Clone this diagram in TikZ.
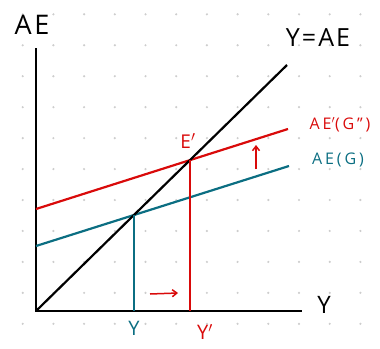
\documentclass[tikz,border=0pt]{standalone}
\usepackage{fontspec}
\setmainfont{Open Sans}
\usetikzlibrary{arrows.meta, positioning, calc, intersections}
\definecolor{aeblue}{HTML}{0B6E82}
\definecolor{aered}{HTML}{D90A0A}
\definecolor{dotgray}{HTML}{CDCDCD}

\begin{document}
\begin{tikzpicture}[x=1pt, y=-1pt,
      axis/.style={line width=2.2pt, black},
      curve/.style={line width=2.2pt},
      drop/.style={line width=1.6pt},
      shiftarr/.style={-{Straight Barb[length=4.5pt, width=7pt]}, aered, line width=1.5pt},
      lbl/.style={inner sep=0pt, font=\fontsize{16}{18}\selectfont\addfontfeature{LetterSpace=18}},
    ]
    \useasboundingbox (0,0) rectangle (380,348);
    % --- dotted paper -------------------------------------------------
    \foreach \i in {0,...,11} {
      \foreach \j in {0,...,10} {
        \fill[dotgray] (22.7+\i*30.7, 14.3+\j*30.95) circle (1.2pt);
      }
    }
    % --- axes ---------------------------------------------------------
    \coordinate (O) at (36,311);
    \coordinate (ytop) at (36,48);
    \coordinate (xend) at (302,311);
    \draw[axis] (ytop) -- (O) -- (xend);
    % --- the 45 degree line and the two AE lines ----------------------
    \coordinate (diagend) at (287,65);
    \coordinate (ae0) at (36,246);
    \coordinate (ae1) at (289,166);
    \coordinate (aep0) at (36,209);
    \coordinate (aep1) at (288,129);
    \draw[curve, aeblue, name path=ae] (ae0) -- (ae1);
    \draw[curve, aered, name path=aep] (aep0) -- (aep1);
    \draw[curve, black, name path=diag] (O) -- (diagend);
    \path[name intersections={of=diag and ae, by=E}];
    \path[name intersections={of=diag and aep, by=Ep}];
    % --- drop lines to the Y axis -------------------------------------
    \draw[drop, aeblue] (E) -- (E |- O);
    \draw[drop, aered] (Ep) -- (Ep |- O);
    % --- labels -------------------------------------------------------
    \node[lbl, font=\fontsize{27}{30}\selectfont\addfontfeature{LetterSpace=10}] (aelbl) at (32,25) {AE};
    \node[lbl, font=\fontsize{25}{28}\selectfont\addfontfeature{LetterSpace=8}] (eqlbl) at (318,38) {Y=AE};
    \node[lbl, font=\fontsize{24}{26}\selectfont] (ylbl) at (324,305) {Y};
    \node[lbl, aered, font=\fontsize{19}{21}\selectfont\addfontfeature{LetterSpace=10}] (eplbl) at (188,141) {E$'$};
    \node[lbl, aered] (aeplbl) at (340,125) {AE$'$(G”)};
    \node[lbl, aeblue] (aelinelbl) at (338,160) {AE(G)};
    \node[lbl, aeblue, font=\fontsize{20}{22}\selectfont] (y0lbl) at (134,328) {Y};
    \node[lbl, aered, font=\fontsize{20}{22}\selectfont] (y1lbl) at (205,332) {Y$'$};
    % --- shift arrows -------------------------------------------------
    \coordinate (upfrom) at (256,169);
    \coordinate (upto) at (256,145);
    \coordinate (rtfrom) at (150,294);
    \coordinate (rtto) at (178,293);
    \draw[shiftarr] (upfrom) -- (upto);
    \draw[shiftarr] (rtfrom) -- (rtto);
  \end{tikzpicture}
\end{document}
